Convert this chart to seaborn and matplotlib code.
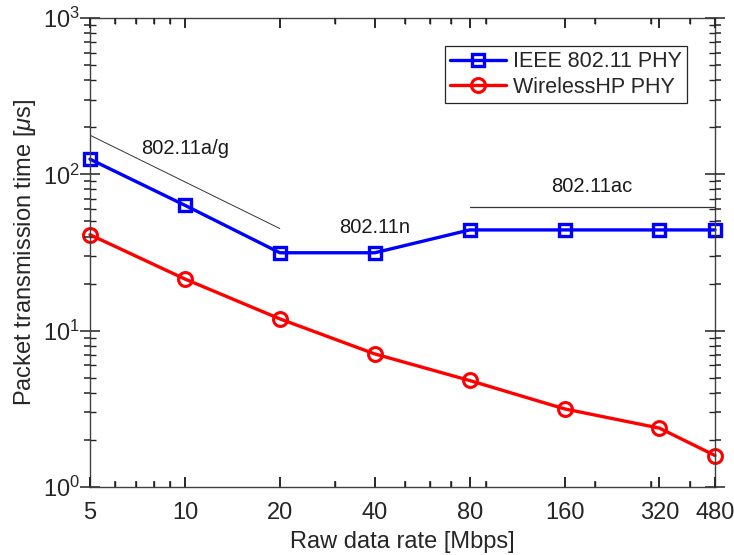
import matplotlib
matplotlib.use("Agg")
import numpy as np
import pandas as pd
import seaborn as sns
from matplotlib import pyplot as plt
from matplotlib.ticker import LogLocator, NullFormatter

# data
rates = [5, 10, 20, 40, 80, 160, 320, 480]
rate_labels = ["5", "10", "20", "40", "80", "160", "320", "480"]
ieee_time = [125, 63.4, 31.5, 31.5, 44.1, 44.1, 44.1, 44.1]
whp_time = [41.1, 21.4, 11.9, 7.1, 4.8, 3.16, 2.38, 1.59]

# standard annotations
ag_x = [5, 20]
ag_y = [178, 45]
ac_x = [80, 480]
ac_y = [61.6, 61.6]
notes = ["802.11a/g", "802.11n", "802.11ac"]
note_x = [10, 40, 195]
note_y = [147, 45.4, 83.5]

sns.set_style("ticks")
plt.rcParams["font.family"] = ["Liberation Sans", "DejaVu Sans"]
plt.rcParams["mathtext.fontset"] = "custom"
plt.rcParams["mathtext.it"] = "Liberation Sans:italic"
plt.rcParams["mathtext.rm"] = "Liberation Sans"

fig = plt.figure(figsize=(7.34, 5.55), dpi=100)
ax = fig.add_axes([90 / 734, 1 - 487 / 555, 625 / 734, 469 / 555])

ax.plot(ag_x, ag_y, color="#333333", lw=0.7)
ax.plot(ac_x, ac_y, color="#333333", lw=0.9)

sns.lineplot(x=rates, y=ieee_time, color="#0000ff", marker="s", lw=2.4, ms=9,
             mew=2.4, mfc="none", mec="#0000ff", label="IEEE 802.11 PHY",
             ax=ax, clip_on=False)
sns.lineplot(x=rates, y=whp_time, color="#ff0000", marker="o", lw=2.4, ms=10,
             mew=2.2, mfc="none", mec="#ff0000", label="WirelessHP PHY",
             ax=ax, clip_on=False)

for txt, tx, ty in zip(notes, note_x, note_y):
    ax.text(tx, ty, txt, ha="center", va="center", fontsize=14.5, color="#1a1a1a")

ax.set_xscale("log")
ax.set_yscale("log")
ax.set_xlim(5, 480)
ax.set_ylim(1, 1000)
ax.set_xticks(rates)
ax.set_xticklabels(rate_labels)
ax.xaxis.set_minor_locator(LogLocator(base=10, subs=np.arange(2, 10), numticks=20))
ax.xaxis.set_minor_formatter(NullFormatter())
ax.yaxis.set_minor_locator(LogLocator(base=10, subs=np.arange(2, 10), numticks=20))
ax.yaxis.set_minor_formatter(NullFormatter())
ax.tick_params(which="both", direction="in", top=True, right=True,
               bottom=True, left=True, color="#222222", labelcolor="#262626")
ax.tick_params(which="major", length=7, width=1.1, labelsize=17, pad=7)
ax.tick_params(axis="x", which="major", pad=11)
ax.tick_params(which="minor", length=4, width=1.0)
for s in ax.spines.values():
    s.set_color("#404040")
    s.set_linewidth(1.0)

ax.set_xlabel("Raw data rate [Mbps]", fontsize=17, color="#262626", labelpad=5)
ax.set_ylabel(r"Packet transmission time [$\mu$s]", fontsize=17, color="#262626", labelpad=4)

leg = ax.legend(loc="upper right", fontsize=15.5, frameon=True, fancybox=False,
                borderaxespad=1.3, handlelength=2.6, borderpad=0.25,
                labelspacing=0.2, handletextpad=0.3)
leg.get_frame().set_edgecolor("#262626")
leg.get_frame().set_linewidth(0.9)
leg.get_frame().set_alpha(1)

# bottom/left tick marks kept vanishing, so stamp them on from the axis locators
x0, x1 = ax.get_xlim()
y0, y1 = ax.get_ylim()
xmaj = [v for v in ax.xaxis.get_majorticklocs() if x0 <= v <= x1]
xmin = [v for v in ax.xaxis.get_minorticklocs() if x0 <= v <= x1]
ymaj = [v for v in ax.yaxis.get_majorticklocs() if y0 <= v <= y1]
ymin = [v for v in ax.yaxis.get_minorticklocs() if y0 <= v <= y1]
for locs, size in ((xmaj, 7), (xmin, 4)):
    ax.plot(locs, [0] * len(locs), ls="none", marker=2, ms=size, mew=1.1,
            color="#222222", transform=ax.get_xaxis_transform(), clip_on=False, zorder=3)
    ax.plot(locs, [1] * len(locs), ls="none", marker=3, ms=size, mew=1.1,
            color="#222222", transform=ax.get_xaxis_transform(), clip_on=False, zorder=3)
for locs, size in ((ymaj, 7), (ymin, 4)):
    ax.plot([0] * len(locs), locs, ls="none", marker=0, ms=size, mew=1.1,
            color="#222222", transform=ax.get_yaxis_transform(), clip_on=False, zorder=3)
    ax.plot([1] * len(locs), locs, ls="none", marker=1, ms=size, mew=1.1,
            color="#222222", transform=ax.get_yaxis_transform(), clip_on=False, zorder=3)
ax.set_xlim(x0, x1)
ax.set_ylim(y0, y1)

fig.savefig("out.png", dpi=100)
